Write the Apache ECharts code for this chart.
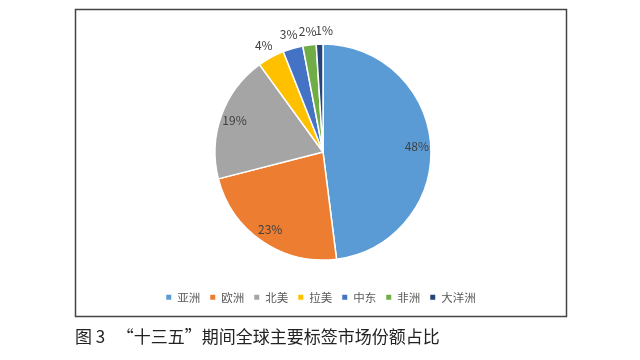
<!DOCTYPE html>
<html><head><meta charset="utf-8">
<script src="https://cdn.jsdelivr.net/npm/echarts@6/dist/echarts.min.js"></script>
<style>html,body{margin:0;padding:0;background:#fff}#c{width:640px;height:360px}</style>
</head><body><div id="c"></div>
<script>
const categories = ['亚洲','欧洲','北美','拉美','中东','非洲','大洋洲'];
const shares = [48, 23, 19, 4, 3, 2, 1];
const colors = ['#5B9BD5','#ED7D31','#A5A5A5','#FFC000','#4472C4','#70AD47','#264478'];
const titleText = '图 3   “十三五”期间全球主要标签市场份额占比';

const chart = echarts.init(document.getElementById('c'), null, {renderer:'canvas'});
const center = [323, 152];
const font = '"Noto Sans CJK SC", "Noto Sans", sans-serif';

const mainData = categories.map((n,i)=>({name:n, value:shares[i], itemStyle:{color:colors[i]}}));
const innerLabelData = categories.map((n,i)=>({name:n, value:shares[i], label:{show: shares[i] >= 10}}));
// outer labels: the last (smallest) one is nudged right to avoid overlap, as in the source
const outerLabelData = categories.map((n,i)=>({name:n, value:shares[i],
  label:{show: shares[i] < 10, offset: i === categories.length - 1 ? [5, 1] : [0, 1]}}));

const labelStyle = {position:'inside', formatter:'{c}%', color:'#404040', fontSize:12, fontFamily:font};

chart.setOption({
  animation:false,
  color: colors,
  legend:{
    data: categories, bottom: 52, left:'center',
    icon:'rect', itemWidth:7, itemHeight:7, itemGap:8,
    textStyle:{color:'#595959', fontSize:11.5, fontFamily:font},
    selectedMode:false
  },
  graphic:[
    {type:'rect', shape:{x:75.5, y:9.5, width:491, height:307}, style:{fill:'none', stroke:'#444', lineWidth:1.5}, silent:true},
    {type:'text', left:75, top:328, style:{text:titleText, fill:'#222', font:'17px "Noto Sans CJK SC"'}, silent:true}
  ],
  series:[
    {type:'pie', center:center, radius:[0,108], startAngle:90, clockwise:true,
     data: mainData, label:{show:false}, labelLine:{show:false},
     itemStyle:{borderColor:'#fff', borderWidth:1.5}, silent:true},
    {type:'pie', center:center, radius:[82,100], startAngle:90, clockwise:true, avoidLabelOverlap:false,
     data: innerLabelData, itemStyle:{color:'rgba(0,0,0,0)'}, label:labelStyle, labelLine:{show:false}, silent:true},
    {type:'pie', center:center, radius:[110,130], startAngle:90, clockwise:true, avoidLabelOverlap:false,
     minShowLabelAngle:0, labelLayout:{hideOverlap:false},
     data: outerLabelData, itemStyle:{color:'rgba(0,0,0,0)'}, label:labelStyle, labelLine:{show:false}, silent:true}
  ]
});
</script></body></html>
